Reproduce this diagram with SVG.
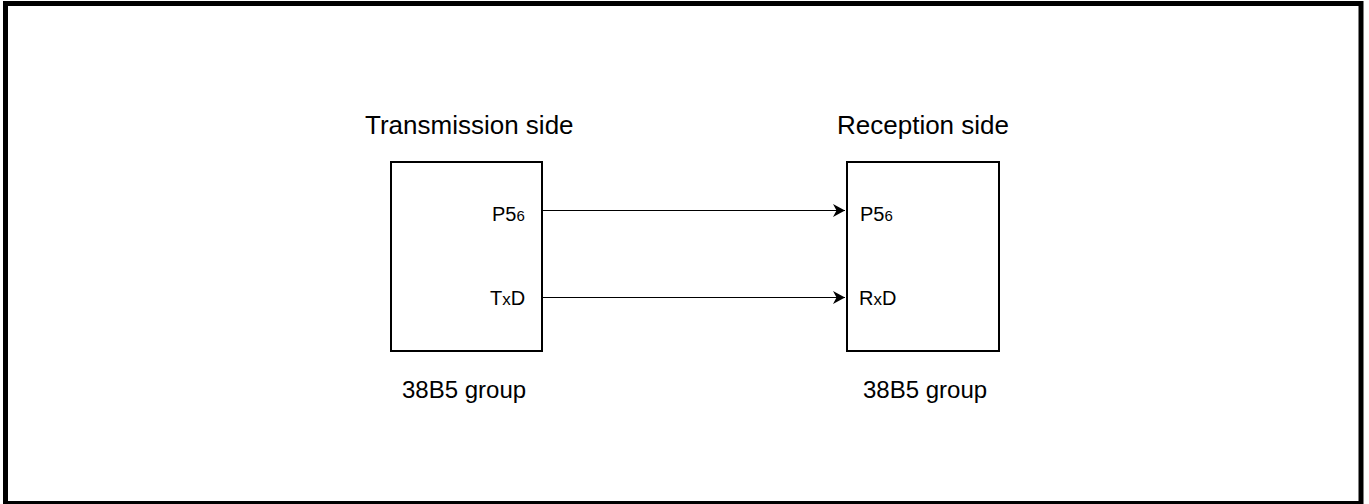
<svg xmlns="http://www.w3.org/2000/svg" width="1369" height="504" viewBox="0 0 1369 504">
<style>
.t{font-family:"Liberation Sans",Arial,sans-serif;fill:#000}
.title{font-size:26px}
.pin{font-size:20px}
.sub{font-size:15px}
.grp{font-size:24px}
.box{fill:#fff;stroke:#000;stroke-width:2}
.conn{stroke:#000;stroke-width:1;fill:none}
</style>
<defs>
<marker id="ah" markerWidth="14" markerHeight="14" refX="12" refY="6.5" orient="auto" markerUnits="userSpaceOnUse">
<path d="M0,0 L12,6.5 L0,13 L3.5,6.5 Z" fill="#000"/>
</marker>
</defs>
<rect x="0" y="0" width="1369" height="504" fill="#fff"/>
<rect x="5.5" y="3.5" width="1355.5" height="500" fill="none" stroke="#000" stroke-width="5"/>
<g id="tx">
<text class="t title" x="365" y="134">Transmission side</text>
<rect class="box" x="391" y="162" width="151" height="189"/>
<text class="t pin" x="492" y="221">P5<tspan class="sub">6</tspan></text>
<text class="t pin" x="490" y="305">T<tspan font-size="17">x</tspan>D</text>
<text class="t grp" x="402" y="398">38B5 group</text>
</g>
<g id="rx">
<text class="t title" x="837" y="134">Reception side</text>
<rect class="box" x="847" y="162" width="152" height="189"/>
<text class="t pin" x="860" y="221">P5<tspan class="sub">6</tspan></text>
<text class="t pin" x="859" y="305">R<tspan font-size="17">x</tspan>D</text>
<text class="t grp" x="863" y="398">38B5 group</text>
</g>
<g id="connectors">
<line class="conn" x1="542" y1="210.5" x2="845" y2="210.5" marker-end="url(#ah)"/>
<line class="conn" x1="542" y1="297.5" x2="845" y2="297.5" marker-end="url(#ah)"/>
</g>
</svg>
